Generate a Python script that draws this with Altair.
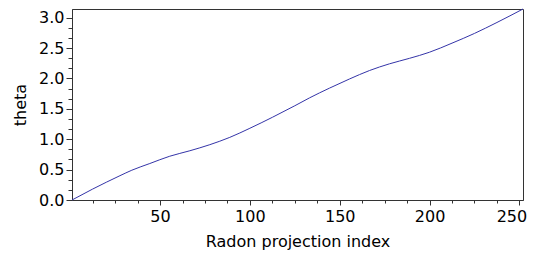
import altair as alt
import pandas as pd

# Values
idx = [1, 12.5, 27.7, 34.3, 44.3, 55.4, 66.6, 77.7, 88.8, 100, 112.5, 125, 133.2,
       144.3, 155.4, 166.6, 177.7, 188.8, 199.9, 212.5, 225, 237.5, 252]
theta = [0.0, 0.18, 0.40, 0.49, 0.60, 0.72, 0.81, 0.91, 1.03, 1.18, 1.36, 1.55, 1.68,
         1.84, 1.99, 2.13, 2.24, 2.33, 2.43, 2.58, 2.74, 2.92, 3.1416]

x_major = [50, 100, 150, 200, 250]
x_minor = [12.5, 25, 37.5, 62.5, 75, 87.5, 112.5, 125, 137.5, 162.5, 175, 187.5,
           212.5, 225, 237.5]
y_major = [0.0, 0.5, 1.0, 1.5, 2.0, 2.5, 3.0]
y_minor = [0.1667, 0.3333, 0.6667, 0.8333, 1.1667, 1.3333, 1.6667, 1.8333,
           2.1667, 2.3333, 2.6667, 2.8333]

df = pd.DataFrame({"idx": idx, "theta": theta})

FONT = "DejaVu Sans"
AX = "#333333"

xscale = alt.Scale(domain=[1, 252], nice=False, zero=False)
yscale = alt.Scale(domain=[0, 3.1416], nice=False, zero=False)

main = alt.Chart(df).mark_line(color="#3434a8", strokeWidth=1, interpolate="monotone").encode(
    x=alt.X("idx:Q", scale=xscale,
            axis=alt.Axis(orient="bottom", values=x_major, format="d", tickSize=5,
                          title="Radon projection index", grid=False,
                          labelFont=FONT, labelFontSize=16, labelColor="black",
                          labelOffset={"condition": {"test": "datum.value >= 250", "value": -8},
                                       "value": 0},
                          titleFont=FONT, titleFontSize=16, titleFontWeight="normal",
                          titleColor="black", titlePadding=9, labelPadding=3,
                          domainColor=AX, tickColor=AX, labelFlush=False)),
    y=alt.Y("theta:Q", scale=yscale,
            axis=alt.Axis(orient="left", values=y_major, format=".1f", tickSize=6,
                          title="theta", grid=False,
                          labelFont=FONT, labelFontSize=16, labelColor="black",
                          titleFont=FONT, titleFontSize=16, titleFontWeight="normal",
                          titleColor="black", titlePadding=10, labelPadding=2,
                          domainColor=AX, tickColor=AX, labelFlush=False)),
)

minor = alt.Chart(df).mark_line(opacity=0, interpolate="monotone").encode(
    x=alt.X("idx:Q", scale=xscale,
            axis=alt.Axis(orient="bottom", values=x_minor, labels=False, tickSize=3,
                          title=None, grid=False, domain=False, tickColor=AX)),
    y=alt.Y("theta:Q", scale=yscale,
            axis=alt.Axis(orient="left", values=y_minor, labels=False, tickSize=4,
                          title=None, grid=False, domain=False, tickColor=AX)),
)

chart = alt.layer(main, minor).resolve_axis(x="independent", y="independent").properties(
    width=451, height=191,
    autosize=alt.AutoSizeParams(type="none"),
    padding={"left": 64, "top": 1, "right": 5, "bottom": 52},
).configure_view(stroke=AX, strokeWidth=1)

chart.save("out.html", embed_options={"renderer": "svg", "actions": False})
